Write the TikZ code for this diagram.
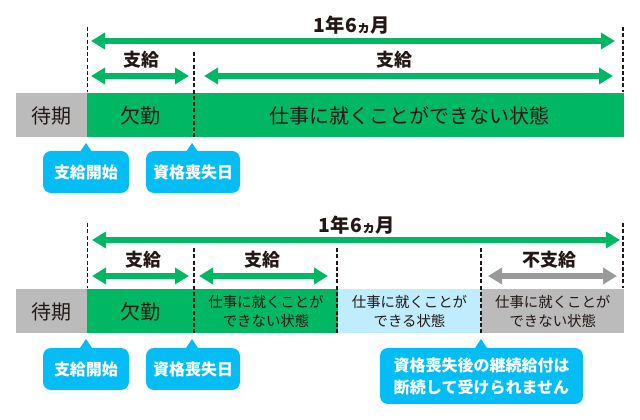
\documentclass[tikz,border=0pt]{standalone}
\usepackage{fontspec}
\setmainfont{Noto Sans CJK JP}
\usepackage{xcolor}
\definecolor{paidgreen}{RGB}{0,184,100}
\definecolor{calloutblue}{RGB}{5,189,245}
\definecolor{paleblue}{RGB}{191,237,253}
\definecolor{waitgray}{RGB}{187,187,187}
\definecolor{arrowgray}{RGB}{153,153,153}
\definecolor{inkblack}{RGB}{35,24,21}
\usetikzlibrary{arrows.meta}
\newcommand{\unitpx}{0.75pt}
\newcommand{\yeartext}{1年6{\fontsize{10.5}{10}\selectfont ヵ}月}
\tikzset{
    common/.style={anchor=west, inner sep=0pt, minimum height=33pt, align=center, text=inkblack, font=\fontsize{15}{18}\selectfont},
    bar/.style={common, minimum width=#1*\unitpx},
    twolines/.style={font=\fontsize{10.8}{14.6}\selectfont},
    span/.style={{Triangle[length=10.5pt,width=12pt]}-{Triangle[length=10.5pt,width=12pt]}, line width=4pt},
    paid/.style={span, paidgreen},
    unpaid/.style={span, arrowgray},
    limit/.style={line width=1.2pt, inkblack, dash pattern=on 3pt off 1.7pt},
    spanlabel/.style={inner sep=0pt, text=inkblack, font=\fontsize{13.5}{16}\bfseries\selectfont},
    yearlabel/.style={spanlabel, font=\fontsize{14.5}{16}\bfseries\selectfont},
    callout/.style={fill=calloutblue, rounded corners=6pt, text=white, inner sep=0pt, align=center, minimum height=31.5pt, font=\fontsize{12}{16.5}\bfseries\selectfont},
    tip/.style={fill=calloutblue}
}
\begin{document}
\begin{tikzpicture}[x=\unitpx,y=-\unitpx]
    \useasboundingbox (0,0) rectangle (640,420);

    % upper timeline
    \path
        (16,115.5) node[bar=71, fill=waitgray] (wait-a) {待期}
        (87,115.5) node[bar=536.5, fill=paidgreen] (main-a) {}
        (87,115.5) node[bar=107] (absent-a) {欠勤}
        (194,115.5) node[bar=429.5] (unable-a) {仕事に就くことができない状態};

    \path
        (87.5,27) coordinate (a-start-top)
        (87.5,92) coordinate (a-start-bottom)
        (194,52) coordinate (a-lost-top)
        (194,137) coordinate (a-lost-bottom)
        (623,27) coordinate (a-end-top)
        (623,92) coordinate (a-end-bottom)
        (91,41) coordinate (a-all-l)
        (615,41) coordinate (a-all-r)
        (91,76) coordinate (a-pay1-l)
        (189,76) coordinate (a-pay1-r)
        (204,76) coordinate (a-pay2-l)
        (613,76) coordinate (a-pay2-r);

    \draw[limit] (a-start-top) -- (a-start-bottom);
    \draw[limit] (a-lost-top) -- (a-lost-bottom);
    \draw[limit] (a-end-top) -- (a-end-bottom);
    \draw[paid] (a-all-l) -- (a-all-r);
    \draw[paid] (a-pay1-l) -- (a-pay1-r);
    \draw[paid] (a-pay2-l) -- (a-pay2-r);

    \node[yearlabel] (a-all-text) at (352,25) {\yeartext};
    \node[spanlabel] (a-pay1-text) at (141,60) {支給};
    \node[spanlabel] (a-pay2-text) at (394,60) {支給};

    \node[callout, minimum width=86*\unitpx] (start-a) at (86,172) {支給開始};
    \node[callout, minimum width=94*\unitpx] (lost-a) at (193,172) {資格喪失日};
    \fill[tip] (86,143) -- (80,152) -- (92,152) -- cycle;
    \fill[tip] (192,143) -- (186,152) -- (198,152) -- cycle;

    % lower timeline
    \path
        (16,311.5) node[bar=71, fill=waitgray] (wait-b) {待期}
        (87,311.5) node[bar=107, fill=paidgreen] (absent-b) {欠勤}
        (194,311.5) node[bar=143.5, fill=paidgreen, twolines] (unable-b) {仕事に就くことが\\できない状態}
        (337.5,311.5) node[bar=143.5, fill=paleblue, twolines] (able-b) {仕事に就くことが\\できる状態}
        (481,311.5) node[bar=143, fill=waitgray, twolines] (unpaid-b) {仕事に就くことが\\できない状態};

    \path
        (87.5,223) coordinate (b-start-top)
        (87.5,288) coordinate (b-start-bottom)
        (194,248) coordinate (b-lost-top)
        (194,333) coordinate (b-lost-bottom)
        (337,248) coordinate (b-able-top)
        (337,333) coordinate (b-able-bottom)
        (481,248) coordinate (b-stop-top)
        (481,333) coordinate (b-stop-bottom)
        (623,223) coordinate (b-end-top)
        (623,288) coordinate (b-end-bottom)
        (92,240) coordinate (b-all-l)
        (620,240) coordinate (b-all-r)
        (92,276) coordinate (b-pay1-l)
        (189,276) coordinate (b-pay1-r)
        (199,276) coordinate (b-pay2-l)
        (328,276) coordinate (b-pay2-r)
        (488,276) coordinate (b-none-l)
        (617,276) coordinate (b-none-r);

    \draw[limit] (b-start-top) -- (b-start-bottom);
    \draw[limit] (b-lost-top) -- (b-lost-bottom);
    \draw[limit] (b-able-top) -- (b-able-bottom);
    \draw[limit] (b-stop-top) -- (b-stop-bottom);
    \draw[limit] (b-end-top) -- (b-end-bottom);
    \draw[paid] (b-all-l) -- (b-all-r);
    \draw[paid] (b-pay1-l) -- (b-pay1-r);
    \draw[paid] (b-pay2-l) -- (b-pay2-r);
    \draw[unpaid] (b-none-l) -- (b-none-r);

    \node[yearlabel] (b-all-text) at (357,225) {\yeartext};
    \node[spanlabel] (b-pay1-text) at (143,260) {支給};
    \node[spanlabel] (b-pay2-text) at (262,260) {支給};
    \node[spanlabel] (b-none-text) at (549,260) {不支給};

    \node[callout, minimum width=86*\unitpx] (start-b) at (86,369) {支給開始};
    \node[callout, minimum width=94*\unitpx] (lost-b) at (193,369) {資格喪失日};
    \node[callout, minimum width=203*\unitpx, minimum height=42pt] (note-b) at (481.5,376) {資格喪失後の継続給付は\\断続して受けられません};
    \fill[tip] (86,339) -- (80,348) -- (92,348) -- cycle;
    \fill[tip] (192,339) -- (186,348) -- (198,348) -- cycle;
    \fill[tip] (481,339) -- (475,348) -- (487,348) -- cycle;
\end{tikzpicture}
\end{document}
